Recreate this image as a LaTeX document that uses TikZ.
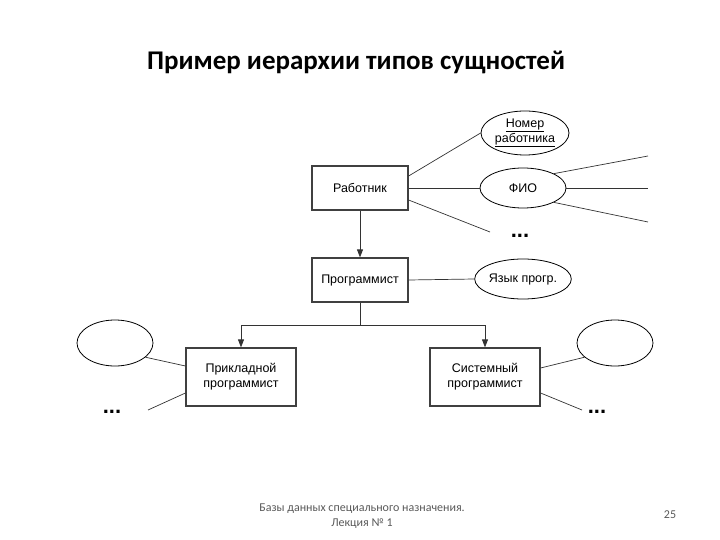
\documentclass[tikz,border=0pt]{standalone}
\usepackage{fontspec}
\setmainfont{Liberation Sans}
\newfontfamily\titlefont{Carlito}
\usetikzlibrary{shapes.geometric,arrows.meta}
\begin{document}
\begin{tikzpicture}[x=1pt,y=-1pt,
  ent/.style={draw=black!75,line width=1.2pt,minimum width=96pt,minimum height=44pt,align=center,font=\fontsize{12.5}{15}\selectfont},
  att/.style={draw=black,ellipse,line width=0.8pt,align=center,font=\fontsize{12.5}{13}\selectfont,inner sep=0pt},
  ln/.style={draw=black!80,line width=0.7pt},
  arr/.style={draw=black!80,line width=0.8pt,-{Triangle[length=8pt,width=6pt]}},
  dots/.style={font=\bfseries\fontsize{22}{22}\selectfont}]
\useasboundingbox (0,0) rectangle (720,540);
\node[font=\titlefont\bfseries\fontsize{27}{30}\selectfont] (title) at (356,62) {Пример иерархии типов сущностей};
\node[ent] (rab) at (360,188) {Работник};
\node[ent] (prog) at (360,280) {Программист};
\node[ent,minimum width=110pt,minimum height=58pt] (prik) at (241,377) {Прикладной\\программист};
\node[ent,minimum width=110pt,minimum height=58pt] (sys) at (485,377) {Системный\\программист};
\node[att,minimum width=88pt,minimum height=44pt] (nom) at (525,133) {\underline{Номер}\\\underline{работника}};
\node[att,minimum width=86pt,minimum height=40pt] (fio) at (523,188) {ФИО};
\node[att,minimum width=88pt,minimum height=40pt] (yaz) at (523,279) {Язык прогр.};
\node[att,minimum width=76pt,minimum height=46pt] (le) at (115,343) {};
\node[att,minimum width=76pt,minimum height=46pt] (re) at (615,343) {};
\node[dots] (d1) at (520,236) {...};
\node[dots] (d2) at (112,412) {...};
\node[dots] (d3) at (597,412) {...};
\coordinate (c1) at (490,232);
\coordinate (f1) at (648,156);
\coordinate (f2) at (648,188);
\coordinate (f3) at (648,222);
\coordinate (l1) at (148,410);
\coordinate (r1) at (582,410);
\coordinate (j) at (360,325);
\draw[ln] (rab.east) ++(0,-12) -- (nom.west);
\draw[ln] (rab.east) -- (fio.west);
\draw[ln] (rab.east) ++(0,12) -- (c1);
\draw[ln] (fio.25) -- (f1);
\draw[ln] (fio.east) -- (f2);
\draw[ln] (fio.-25) -- (f3);
\draw[ln] (prog.east) -- (yaz.west);
\draw[arr] (rab.south) -- (prog.north);
\draw[ln] (prog.south) -- (j);
\draw[arr] (j) -| (prik.north);
\draw[arr] (j) -| (sys.north);
\draw[ln] (prik.west) ++(0,-11) -- (le.-25);
\draw[ln] (prik.west) ++(0,16) -- (l1);
\draw[ln] (sys.east) ++(0,-9) -- (re.205);
\draw[ln] (sys.east) ++(0,16) -- (r1);
\node[font=\titlefont\fontsize{12}{15}\selectfont,text=black!65,align=center] (foot) at (362,516) {Базы данных специального назначения.\\Лекция № 1};
\node[font=\titlefont\fontsize{12}{15}\selectfont,text=black!65] (pg) at (670,515) {25};
\end{tikzpicture}
\end{document}
